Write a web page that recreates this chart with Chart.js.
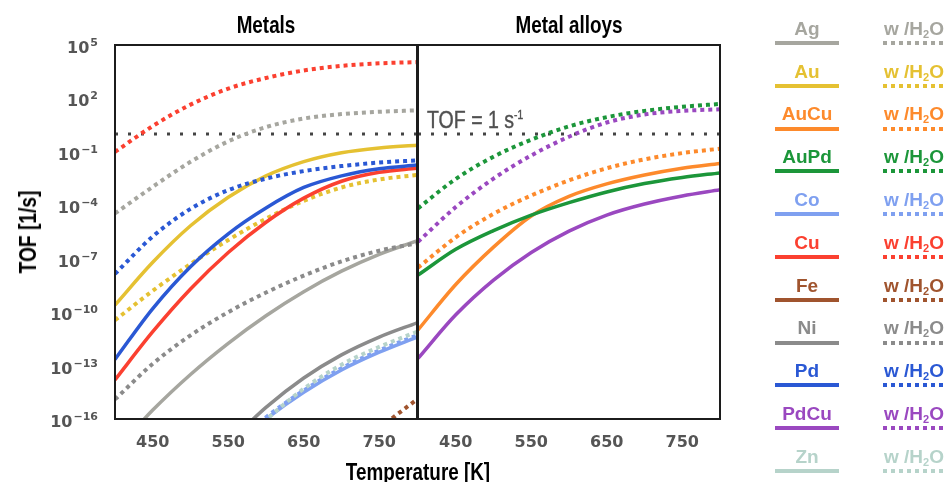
<!DOCTYPE html>
<html>
<head>
<meta charset="utf-8">
<script src="https://cdn.jsdelivr.net/npm/chart.js@4.4.0/dist/chart.umd.min.js"></script>
<style>
  body { margin: 0; background: #fff; width: 948px; height: 482px; overflow: hidden; position: relative;
         font-family: "Liberation Sans", Arial, sans-serif; }
  canvas { position: absolute; top: 0; }
  .ttl { position: absolute; font-weight: bold; font-size: 23px; line-height: 23px; color: #000;
         white-space: nowrap; transform: translateX(-50%) scaleX(0.82); }
  .ytitle { position: absolute; left: 28px; top: 232px; font-weight: bold; font-size: 24px; line-height: 24px;
            white-space: nowrap; transform: translate(-50%, -50%) rotate(-90deg) scaleX(0.8); }
  .tof { position: absolute; left: 427px; top: 109px; font-size: 23px; line-height: 23px; color: #505050;
         white-space: nowrap; transform-origin: left center; transform: scaleX(0.85);
         -webkit-text-stroke: 0.4px #505050; }
  .tof sup { font-size: 12px; line-height: 0; vertical-align: 9px; }
  .lab { position: absolute; width: 100px; text-align: center; font-weight: bold; font-size: 19px;
         line-height: 19px; white-space: nowrap; }
  .lab sub { font-size: 11px; line-height: 0; vertical-align: -3px; }
  .sw { position: absolute; width: 64px; height: 4px; }
</style>
</head>
<body>
<canvas id="metals" width="420" height="482" style="left:0"></canvas>
<canvas id="alloys" width="330" height="482" style="left:400px"></canvas>
<div class="ttl" style="left:266px; top:14px">Metals</div>
<div class="ttl" style="left:569px; top:14px">Metal alloys</div>
<div class="ytitle">TOF [1/s]</div>
<div class="ttl" style="left:418px; top:461px">Temperature [K]</div>
<div class="tof">TOF = 1 s<sup>-1</sup></div>
<div id="legend"></div>
<script>
const temps = [400, 450, 500, 550, 600, 650, 700, 750, 800];
const xTicks = [450, 550, 650, 750];
const yTickExps = [5, 2, -1, -4, -7, -10, -13, -16];
const yTickLabels = ['5', '2', '\u22121', '\u22124', '\u22127', '\u221210', '\u221213', '\u221216'];
const refTemps = [400, 800];
const refTOF = [1, 1];

// log10(TOF); null = far below the axis
const ag    = [-17.8, -15.5, -13.5, -11.75, -10.2, -8.85, -7.7, -6.75, -6.0];
const agW   = [-4.46, -2.96, -1.56, -0.41, 0.39, 0.87, 1.12, 1.25, 1.33];
const au    = [-9.6, -7.2, -5.15, -3.55, -2.35, -1.55, -1.05, -0.78, -0.63];
const auW   = [-10.45, -8.8, -7.3, -5.95, -4.75, -3.75, -3.0, -2.55, -2.3];
const co    = [null, null, null, -17.75, -16.0, -14.5, -13.25, -12.25, -11.4];
const coW   = [null, null, null, -17.65, -15.9, -14.4, -13.15, -12.15, -11.3];
const cu    = [-13.8, -11.1, -8.7, -6.65, -4.95, -3.6, -2.65, -2.15, -1.92];
const cuW   = [-1.0, 0.45, 1.65, 2.55, 3.15, 3.57, 3.83, 3.97, 4.04];
const fe    = [null, null, null, null, null, null, null, null, null];
const feW   = [null, null, null, null, null, null, null, -16.5, -14.9];
const ni    = [null, null, null, -17.35, -15.35, -13.7, -12.4, -11.4, -10.6];
const niW   = [-14.9, -12.9, -11.3, -10.0, -8.9, -7.95, -7.15, -6.55, -6.13];
const pd    = [-12.65, -9.8, -7.45, -5.6, -4.15, -3.0, -2.35, -1.95, -1.74];
const pdW   = [-7.85, -5.75, -4.2, -3.15, -2.5, -2.08, -1.8, -1.6, -1.48];
const zn    = [null, null, null, null, null, null, null, null, null];
const znW   = [null, null, null, -18.05, -16.05, -14.3, -12.95, -11.95, -11.1];

const auCu  = [-11.0, -8.45, -6.35, -4.6, -3.5, -2.8, -2.3, -1.92, -1.65];
const auCuW = [-7.5, -5.8, -4.48, -3.45, -2.6, -1.92, -1.42, -1.07, -0.82];
const auPd  = [-7.92, -6.47, -5.42, -4.55, -3.85, -3.25, -2.78, -2.44, -2.18];
const auPdW = [-4.17, -2.52, -1.27, -0.32, 0.43, 0.95, 1.3, 1.53, 1.69];
const pdCu  = [-12.6, -10.15, -8.2, -6.65, -5.45, -4.55, -3.93, -3.48, -3.13];
const pdCuW = [-6.05, -4.1, -2.5, -1.2, -0.15, 0.65, 1.1, 1.3, 1.39];

const names  = ['Ag', 'Au', 'AuCu', 'AuPd', 'Co', 'Cu', 'Fe', 'Ni', 'Pd', 'PdCu', 'Zn'];
const colors = ['#a6a69f', '#e5c132', '#fd8a2c', '#1c963a', '#7fa0f0', '#fb4030',
                '#a0542e', '#8b8b8b', '#2a58d4', '#9a48c0', '#b6d3ca'];

const metalRows = [['Ag', ag, agW], ['Au', au, auW], ['Co', co, coW], ['Cu', cu, cuW],
                   ['Fe', fe, feW], ['Ni', ni, niW], ['Pd', pd, pdW], ['Zn', zn, znW]];
const alloyRows = [['AuCu', auCu, auCuW], ['AuPd', auPd, auPdW], ['PdCu', pdCu, pdCuW]];

function colorOf(name) { return colors[names.indexOf(name)]; }

function toPoints(vals) {
  return temps.map((t, i) => ({ x: t, y: vals[i] === null ? null : Math.pow(10, vals[i]) }));
}

function buildSets(rows) {
  const sets = [];
  rows.forEach(([name, dry, wet]) => {
    const c = colorOf(name);
    sets.push({ label: name, data: toPoints(dry), borderColor: c, borderWidth: 3.5 });
    sets.push({ label: name + ' w/H2O', data: toPoints(wet), borderColor: c, borderWidth: 4, borderDash: [4, 4] });
  });
  sets.forEach((s, i) => {
    s.order = -i;
    s.pointRadius = 0;
    s.cubicInterpolationMode = 'monotone';
    s.borderCapStyle = 'butt';
  });
  sets.push({
    label: 'TOF = 1', data: refTemps.map((t, i) => ({ x: t, y: refTOF[i] })),
    borderColor: '#444', borderWidth: 3, borderDash: [3, 10], pointRadius: 0, order: 1
  });
  return sets;
}

// box round each panel
const frame = {
  id: 'frame',
  afterDatasetsDraw(chart) {
    const { ctx, chartArea: a } = chart;
    ctx.save();
    ctx.strokeStyle = '#1c1c1c';
    ctx.lineWidth = 2;
    ctx.strokeRect(a.left, a.top, a.right - a.left, a.bottom - a.top);
    ctx.restore();
  }
};

// "10" with a raised exponent at each y tick
const powerLabels = {
  id: 'powerLabels',
  afterDraw(chart) {
    const s = chart.scales.y;
    if (!s.options.display) return;
    const ctx = chart.ctx;
    const right = chart.chartArea.left - 17;
    ctx.save();
    ctx.fillStyle = '#555';
    ctx.textAlign = 'right';
    ctx.textBaseline = 'alphabetic';
    s.ticks.forEach((t, i) => {
      const y = s.getPixelForValue(t.value);
      ctx.font = 'bold 11px "DejaVu Sans"';
      const w = ctx.measureText(yTickLabels[i]).width;
      ctx.fillText(yTickLabels[i], right, y + 1);
      ctx.font = 'bold 16px "DejaVu Sans"';
      ctx.fillText('10', right - w - 1, y + 8);
    });
    ctx.restore();
  }
};

const tickFont = { family: 'DejaVu Sans', weight: 'bold', size: 16 };

function makeChart(id, rows, showY, padding) {
  return new Chart(document.getElementById(id), {
    type: 'line',
    data: { datasets: buildSets(rows) },
    options: {
      responsive: false,
      animation: false,
      devicePixelRatio: 1,
      layout: { padding: padding },
      plugins: { legend: { display: false }, tooltip: { enabled: false } },
      scales: {
        x: {
          type: 'linear', min: 400, max: 800,
          grid: { display: false, drawTicks: false }, border: { display: false },
          afterBuildTicks: s => { s.ticks = xTicks.map(v => ({ value: v })); },
          afterFit: s => { s.height = 63; },
          ticks: { color: '#555', padding: 14, maxRotation: 0, autoSkip: false, font: tickFont }
        },
        y: {
          type: 'logarithmic', min: 1e-16, max: 1e5, display: showY,
          grid: { display: false, drawTicks: false }, border: { display: false },
          afterBuildTicks: s => { s.ticks = yTickExps.map(e => ({ value: Math.pow(10, e) })); },
          afterFit: s => { s.width = showY ? 115 : 0; },
          ticks: { display: false }
        }
      }
    },
    plugins: [frame, powerLabels]
  });
}

makeChart('metals', metalRows, true, { top: 45, right: 3, left: 0, bottom: 0 });
makeChart('alloys', alloyRows, false, { top: 45, right: 10, left: 18, bottom: 0 });

// legend: name + solid line, "w /H2O" + dotted line
const legend = document.getElementById('legend');
const legendTop = 43, legendStep = 42.8;
names.forEach((name, i) => {
  const c = colors[i];
  const y = legendTop + i * legendStep;
  const base = y - 8.5;
  legend.insertAdjacentHTML('beforeend',
    `<div class="lab" style="left:757px; top:${base - 15.8}px; color:${c}">${name}</div>` +
    `<div class="sw" style="left:775px; top:${y - 2}px; background:${c}"></div>` +
    `<div class="lab" style="left:864px; top:${base - 15.8}px; color:${c}">w /H<sub>2</sub>O</div>` +
    `<div class="sw" style="left:883px; top:${y - 2}px; background:repeating-linear-gradient(90deg, ${c} 0 4px, transparent 4px 8px)"></div>`);
});
</script>
</body>
</html>
